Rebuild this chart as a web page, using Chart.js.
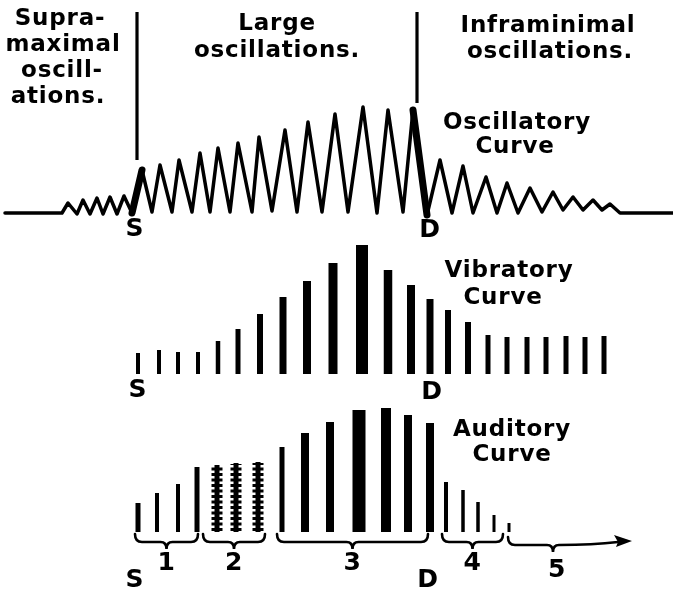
<!DOCTYPE html>
<html>
<head>
<meta charset="utf-8">
<script src="https://cdn.jsdelivr.net/npm/chart.js@4.4.1/dist/chart.umd.min.js"></script>
<style>
  html, body { margin: 0; padding: 0; background: #fff; }
  #wrap { position: relative; width: 673px; height: 593px; }
</style>
</head>
<body>
<div id="wrap"><canvas id="c" width="673" height="593"></canvas></div>
<script>
// Oscillatory curve: vertices of the recorded pressure trace (time, amplitude above the baseline)
const oscTime = [5,62,68,77,83,90,97,103,110,117,124,132,142,152,160,172,179,192,200,210,218,230,238,252,259,272,285,297,308,322,335,348,363,377,388,403,413,427,440,452,463,473,486,497,507,518,530,542,553,563,573,583,593,602,610,620,673];
const oscAmp  = [0,0,10,-1,13,-1,15,-1,16,-1,17,0,43,1,48,1,53,1,60,1,65,1,70,1,76,2,83,1,91,1,99,1,106,0,103,1,103,-2,53,0,47,0,36,0,30,0,25,1,21,3,16,3,13,3,9,0,0];
// systolic (S) upstroke and diastolic (D) downstroke segments, drawn heavier
const oscHeavy = [11, 36];

// phase dividers on the oscillatory record
const dividerTime = [137, 417];
const dividerLow  = [53, 110];
const dividerHigh = [201, 201];

// Vibratory curve: one stroke per beat
const vibTime = [138,159,178,198,218,238,260,283,307,333,362,388,411,430,448,468,488,507,527,546,566,585,604];
const vibAmp  = [21,24,22,22,33,45,60,77,93,111,129,104,89,75,64,52,39,37,37,37,38,37,38];

// Auditory curve: one sound per beat, grouped into the five phases
const audTime  = [138,157,178,197,217,236,258,282,305,330,359,386,408,430,446,463,478,494,509];
const audAmp   = [29,39,48,65,67,69,70,85,99,110,122,124,117,109,50,42,30,17,9];
const audPhase = [1,1,1,1,2,2,2,3,3,3,3,3,3,3,4,4,4,4,4];

// phase braces under the auditory curve
const phaseNames = ['1','2','3','4','5'];
const phaseFrom  = [135, 203, 277, 442, 508];
const phaseTo    = [198, 265, 428, 503, 632];

// stroke widths (drawing style)
const vibWidth = [4,4,4,4,4.5,5,6,7,8,9,12,8.5,8,7,6,6,5,5,5,5,5,5,5];
const audWidth = [5,4,4,5,5,5,5,5,8,8,13,10,8,8,4,3.5,3.5,3,3];

const INK = '#000';

const datasets = [];
datasets.push({
  yAxisID: 'yOsc',
  data: oscTime.map((t, i) => ({x: t, y: oscAmp[i]})),
  borderColor: INK, borderWidth: 3.5, pointRadius: 0, tension: 0,
  borderJoinStyle: 'round', borderCapStyle: 'round',
  segment: { borderWidth: ctx => oscHeavy.includes(ctx.p0DataIndex) ? 7 : 3.5 }
});
dividerTime.forEach((t, i) => datasets.push({
  yAxisID: 'yOsc',
  data: [{x: t, y: dividerLow[i]}, {x: t, y: dividerHigh[i]}],
  borderColor: INK, borderWidth: 3.2, pointRadius: 0
}));
vibTime.forEach((t, i) => datasets.push({
  yAxisID: 'yVib',
  data: [{x: t, y: 0}, {x: t, y: vibAmp[i]}],
  borderColor: INK, borderWidth: vibWidth[i], pointRadius: 0, borderCapStyle: 'butt'
}));
audTime.forEach((t, i) => {
  const serrated = audPhase[i] === 2;
  datasets.push({
    yAxisID: 'yAud',
    data: [{x: t, y: 0}, {x: t, y: audAmp[i]}],
    borderColor: INK, borderWidth: audWidth[i], pointRadius: 0, borderCapStyle: 'butt'
  });
  if (serrated) {
    // murmur: toothed outline along the stroke
    datasets.push({
      yAxisID: 'yAud',
      data: [{x: t, y: 1}, {x: t, y: audAmp[i] - 1}],
      borderColor: INK, borderWidth: 11, pointRadius: 0, borderCapStyle: 'butt',
      borderDash: [3, 2.5]
    });
  }
});

// captions: [text, x, y, size]
const textRows = [
  ['Supra-', 60, 19, 23], ['maximal', 63, 45, 23], ['oscill-', 62, 71, 23], ['ations.', 58, 97, 23],
  ['Large', 277, 24, 23], ['oscillations.', 277, 51, 23],
  ['Inframinimal', 548, 26, 23], ['oscillations.', 550, 52, 23],
  ['Oscillatory', 517, 123, 23], ['Curve', 515, 147, 23],
  ['Vibratory', 509, 271, 23], ['Curve', 503, 298, 23],
  ['Auditory', 512, 430, 23], ['Curve', 512, 455, 23],
  ['S', 135, 229, 25], ['D', 430, 230, 25],
  ['S', 138, 390, 25], ['D', 432, 392, 25],
  ['S', 135, 580, 25], ['D', 428, 580, 25]
];

const annotate = {
  id: 'annotate',
  afterDatasetsDraw(chart) {
    const ctx = chart.ctx;
    const xs = chart.scales.x, ya = chart.scales.yAud;
    ctx.save();
    ctx.fillStyle = INK;
    ctx.strokeStyle = INK;
    if ('letterSpacing' in ctx) ctx.letterSpacing = '0.8px';
    ctx.textAlign = 'center';
    ctx.textBaseline = 'middle';
    textRows.forEach(([t, x, y, s]) => {
      ctx.font = 'bold ' + s + 'px "DejaVu Sans", sans-serif';
      ctx.fillText(t, x, y);
    });

    // braces
    ctx.font = 'bold 25px "DejaVu Sans", sans-serif';
    const yb = ya.getPixelForValue(-10);
    ctx.lineWidth = 2.6;
    ctx.lineCap = 'round';
    phaseNames.forEach((name, i) => {
      const x1 = xs.getPixelForValue(phaseFrom[i]);
      const x2 = xs.getPixelForValue(phaseTo[i]);
      const last = i === phaseNames.length - 1;
      const xm = last ? x1 + 45 : (x1 + x2) / 2;
      const y = last ? yb + 3 : yb;
      ctx.beginPath();
      ctx.moveTo(x1, y - 8);
      ctx.quadraticCurveTo(x1, y, x1 + 7, y);
      ctx.lineTo(xm - 6, y);
      ctx.quadraticCurveTo(xm, y, xm, y + 7);
      ctx.quadraticCurveTo(xm, y, xm + 6, y);
      if (last) {
        ctx.quadraticCurveTo(xm + 40, y, x2 - 14, y - 3);
        ctx.stroke();
        ctx.beginPath();
        ctx.moveTo(x2, y - 4);
        ctx.lineTo(x2 - 18, y - 10);
        ctx.lineTo(x2 - 14, y - 3);
        ctx.lineTo(x2 - 16, y + 2);
        ctx.closePath();
        ctx.fill();
      } else {
        ctx.lineTo(x2 - 7, y);
        ctx.quadraticCurveTo(x2, y, x2, y - 8);
        ctx.stroke();
      }
      ctx.fillText(name, xm + (last ? 4 : 0), y + (last ? 25 : 21));
    });
    ctx.restore();
  }
};

new Chart(document.getElementById('c'), {
  type: 'line',
  data: { datasets },
  options: {
    responsive: false,
    animation: false,
    devicePixelRatio: 1,
    layout: { padding: 0 },
    plugins: { legend: { display: false }, tooltip: { enabled: false } },
    elements: { line: { fill: false } },
    scales: {
      x:    { type: 'linear', min: 0, max: 673, display: false },
      yOsc: { type: 'linear', min: -380, max: 213, display: false },
      yVib: { type: 'linear', min: -219, max: 374, display: false },
      yAud: { type: 'linear', min: -61,  max: 532, display: false }
    }
  },
  plugins: [annotate]
});
</script>
</body>
</html>
